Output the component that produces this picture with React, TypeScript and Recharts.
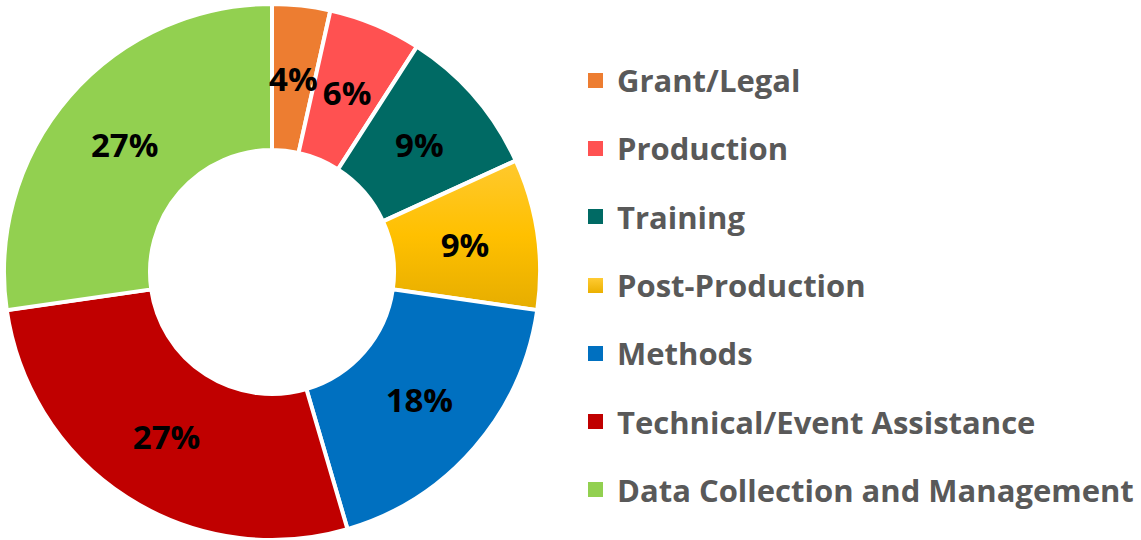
import { Cell, Legend, Pie, PieChart } from "recharts";

const categories = [
  "Grant/Legal",
  "Production",
  "Training",
  "Post-Production",
  "Methods",
  "Technical/Event Assistance",
  "Data Collection and Management",
];

// share of the whole, in percent
const shares = [3.5, 5.6, 9.1, 9.1, 18.2, 27.3, 27.3];

const colors = ["#ED7D31", "#FF5151", "#006A64", "url(#postGrad)", "#0070C0", "#C00000", "#92D050"];
const swatches = [
  "#ED7D31",
  "#FF5151",
  "#006A64",
  "linear-gradient(#FFCB33, #EBB000)",
  "#0070C0",
  "#C00000",
  "#92D050",
];

const data = categories.map((name, i) => ({ name, value: shares[i] }));

const FONT = "'Open Sans', 'Noto Sans', sans-serif";
const RAD = Math.PI / 180;

function SliceLabel(props: any) {
  const { cx, cy, midAngle, innerRadius, outerRadius, value } = props;
  const r = (innerRadius + outerRadius) / 2;
  const x = cx + r * Math.cos(-midAngle * RAD);
  const y = cy + r * Math.sin(-midAngle * RAD);
  return (
    <text
      x={x}
      y={y}
      textAnchor="middle"
      dominantBaseline="central"
      fill="#000"
      fontFamily={FONT}
      fontWeight={700}
      fontSize={33}
    >
      {`${Math.round(value)}%`}
    </text>
  );
}

function LegendList() {
  return (
    <div style={{ fontFamily: FONT }}>
      {categories.map((name, i) => (
        <div key={name} style={{ display: "flex", alignItems: "center", height: 68.3 }}>
          <span
            style={{
              width: 15,
              height: 15,
              background: swatches[i],
              marginRight: 14,
              flex: "none",
            }}
          />
          <span style={{ fontSize: 31, fontWeight: 700, color: "#595959", whiteSpace: "nowrap" }}>
            {name}
          </span>
        </div>
      ))}
    </div>
  );
}

export default function App() {
  return (
    <div>
      <style>{"body{margin:0;background:#fff}"}</style>
      <PieChart width={1141} height={540} margin={{ top: 0, right: 0, bottom: 0, left: 0 }}>
        <defs>
          <linearGradient id="postGrad" x1="0" y1="0" x2="0" y2="1">
            <stop offset="0%" stopColor="#FFC92E" />
            <stop offset="50%" stopColor="#FFC000" />
            <stop offset="100%" stopColor="#E6AD00" />
          </linearGradient>
        </defs>
        <Pie
          data={data}
          dataKey="value"
          nameKey="name"
          cx={272}
          cy={272}
          innerRadius={122}
          outerRadius={268}
          startAngle={90}
          endAngle={-270}
          stroke="#fff"
          strokeWidth={4}
          label={SliceLabel}
          labelLine={false}
          isAnimationActive={false}
        >
          {data.map((d, i) => (
            <Cell key={d.name} fill={colors[i]} />
          ))}
        </Pie>
        <Legend
          layout="vertical"
          verticalAlign="middle"
          align="right"
          content={() => <LegendList />}
          wrapperStyle={{ left: 588, top: 46, width: 553 }}
        />
      </PieChart>
    </div>
  );
}
